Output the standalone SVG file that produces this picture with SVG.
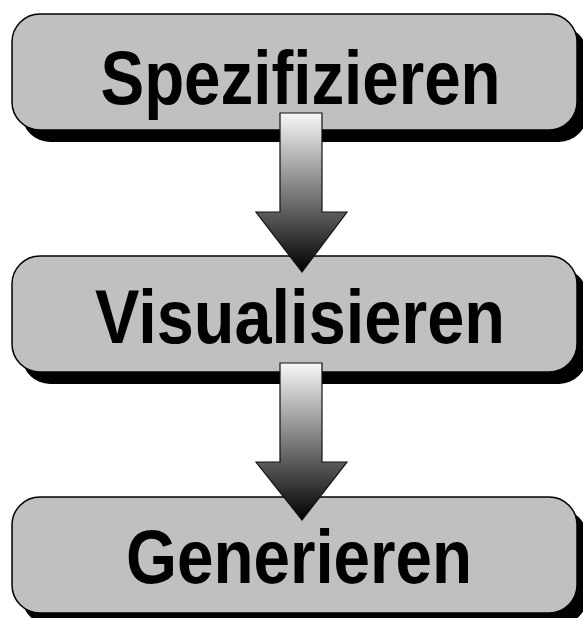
<svg xmlns="http://www.w3.org/2000/svg" width="583" height="618" viewBox="0 0 583 618">
  <style>
    .shadow { fill: #000; }
    .box { fill: #c0c0c0; stroke: #000; stroke-width: 1.5; }
    .label { font-family: "Liberation Sans", Arial, sans-serif; font-weight: bold; font-size: 76px; fill: #000; text-anchor: middle; }
    .arrow { fill: url(#arrowFill); stroke: #111; stroke-width: 1.2; stroke-linejoin: miter; }
  </style>
  <defs>
    <linearGradient id="arrowFill" x1="0" y1="0" x2="0" y2="1">
      <stop offset="0" stop-color="#f8f8f8"/>
      <stop offset="1" stop-color="#000"/>
    </linearGradient>
  </defs>
  <rect width="583" height="618" fill="#fff"/>

  <g id="node-spezifizieren">
    <rect class="shadow" x="22" y="26" width="565" height="116" rx="28"/>
    <rect class="box" x="12" y="14" width="565" height="116" rx="28"/>
    <text class="label" x="300.5" y="104" textLength="400" lengthAdjust="spacingAndGlyphs">Spezifizieren</text>
  </g>

  <g id="node-visualisieren">
    <rect class="shadow" x="22" y="268" width="565" height="116" rx="28"/>
    <rect class="box" x="12" y="256" width="565" height="116" rx="28"/>
    <text class="label" x="300" y="343" textLength="410" lengthAdjust="spacingAndGlyphs">Visualisieren</text>
  </g>

  <g id="node-generieren">
    <rect class="shadow" x="22" y="509" width="565" height="116" rx="28"/>
    <rect class="box" x="12" y="497" width="565" height="116" rx="28"/>
    <text class="label" x="299" y="583" textLength="346" lengthAdjust="spacingAndGlyphs">Generieren</text>
  </g>

  <g id="connectors">
    <path class="arrow" d="M280,113 H322 V212 H347 L302,272 L256,212 H280 Z"/>
    <path class="arrow" d="M280,363 H322 V462 H347 L302,520 L256,462 H280 Z"/>
  </g>
</svg>
